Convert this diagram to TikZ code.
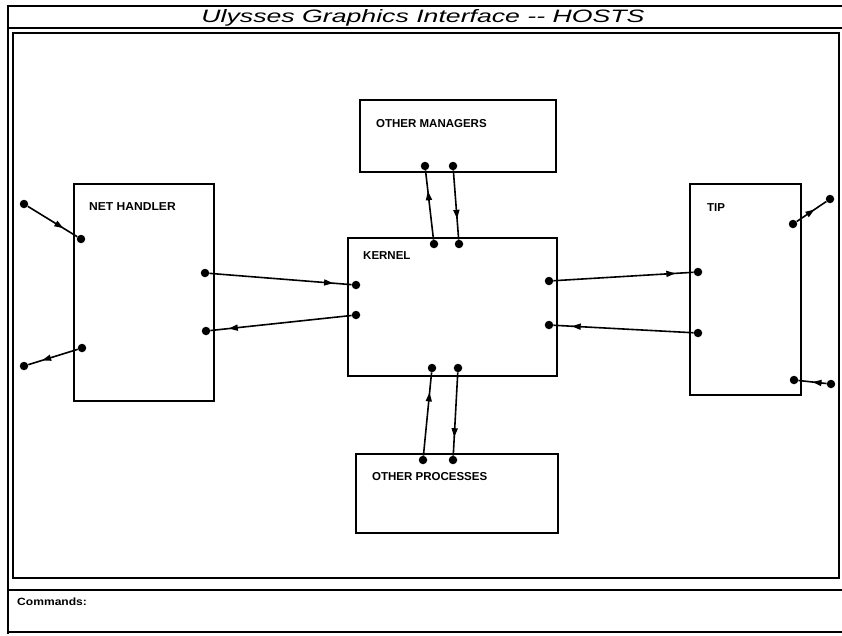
\documentclass[tikz,border=0pt]{standalone}
\usepackage{fontspec}
\setmainfont{Liberation Sans}
\usetikzlibrary{decorations.markings,arrows.meta}
\begin{document}
\begin{tikzpicture}[x=1pt,y=-1pt,
  frame/.style={line width=2pt},
  box/.style={draw, line width=2pt, inner sep=0pt, anchor=north west},
  dot/.style={circle, fill, inner sep=0pt, minimum size=8.5pt},
  lbl/.style={anchor=base west, inner sep=0pt, font=\bfseries\fontsize{11.5}{13}\selectfont},
  conn/.style={line width=1.6pt, postaction={decorate},
    decoration={markings, mark=at position #1 with {\arrow{Triangle[length=9pt,width=6pt]}}}},
]
\useasboundingbox (0,0) rectangle (842,635);

% window frame
\draw[frame] (8,634) -- (8,6) -- (842,6);
\draw[frame] (8,28) -- (842,28);
\draw[frame] (13,33) rectangle (839,578);
\draw[frame] (8,590) -- (842,590);
\draw[line width=1.2pt] (8,632) -- (842,632);

\node[anchor=base, inner sep=0pt] (title) at (423,22)
  {\resizebox{443pt}{13pt}{\itshape Ulysses Graphics Interface -{}- HOSTS}};
\node[lbl, font=\bfseries\fontsize{10.5}{12}\selectfont] (cmd) at (17,605) {\scalebox{1.15}[1]{Commands:}};

% boxes
\node[box, minimum width=140pt, minimum height=217pt] (nh) at (73,183) {};
\node[box, minimum width=196pt, minimum height=72pt] (om) at (359,99) {};
\node[box, minimum width=209pt, minimum height=138pt] (ke) at (347,237) {};
\node[box, minimum width=111pt, minimum height=211pt] (tip) at (689,183) {};
\node[box, minimum width=202pt, minimum height=79pt] (op) at (355,453) {};

% labels
\node[lbl] (nhl) at (89,210) {\scalebox{1.05}[1]{NET HANDLER}};
\node[lbl] (oml) at (376,127) {\scalebox{1.0}[1]{OTHER MANAGERS}};
\node[lbl] (kel) at (363,259) {\scalebox{1.0}[1]{KERNEL}};
\node[lbl] (tipl) at (707,211) {\scalebox{1.0}[1]{TIP}};
\node[lbl] (opl) at (372,480) {\scalebox{1.0}[1]{OTHER PROCESSES}};

% ports
\node[dot] (xl1) at (24,204) {};
\node[dot] (nh1) at (81,239) {};
\node[dot] (nh2) at (82,348) {};
\node[dot] (xl2) at (24,366) {};
\node[dot] (nh3) at (205,273) {};
\node[dot] (nh4) at (206,331) {};
\node[dot] (ke1) at (356,285) {};
\node[dot] (ke2) at (356,315) {};
\node[dot] (ke3) at (549,281) {};
\node[dot] (ke4) at (549,325) {};
\node[dot] (ke5) at (434,244) {};
\node[dot] (ke6) at (459,244) {};
\node[dot] (ke7) at (432,368) {};
\node[dot] (ke8) at (458,368) {};
\node[dot] (om1) at (425,166) {};
\node[dot] (om2) at (453,166) {};
\node[dot] (op1) at (423,460) {};
\node[dot] (op2) at (453,460) {};
\node[dot] (tp1) at (698,272) {};
\node[dot] (tp2) at (698,333) {};
\node[dot] (tp3) at (793,224) {};
\node[dot] (tp4) at (794,380) {};
\node[dot] (xr1) at (830,199) {};
\node[dot] (xr2) at (831,384) {};

% connectors
\draw[conn=0.72] (xl1) -- (nh1);
\draw[conn=0.72] (nh2) -- (xl2);
\draw[conn=0.87] (nh3) -- (ke1);
\draw[conn=0.87] (ke2) -- (nh4);
\draw[conn=0.87] (ke3) -- (tp1);
\draw[conn=0.87] (tp2) -- (ke4);
\draw[conn=0.6] (tp3) -- (xr1);
\draw[conn=0.5] (xr2) -- (tp4);
\draw[conn=0.7] (ke5) -- (om1);
\draw[conn=0.7] (om2) -- (ke6);
\draw[conn=0.76] (op1) -- (ke7);
\draw[conn=0.78] (ke8) -- (op2);
\end{tikzpicture}
\end{document}
